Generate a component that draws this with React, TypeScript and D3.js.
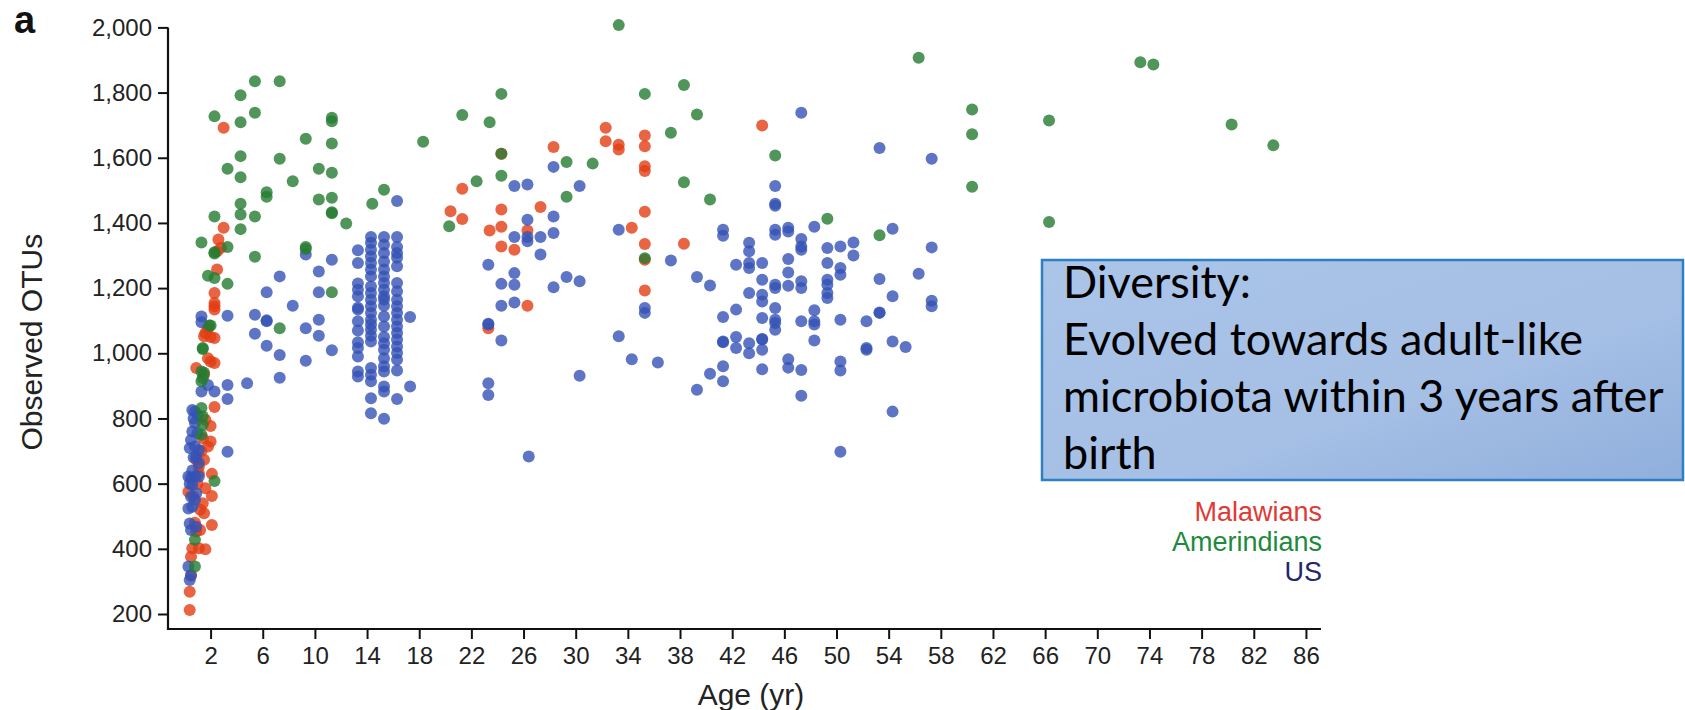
import React, { useEffect, useRef } from 'react';
import * as d3 from 'd3';

// [age (yr), observed OTUs]
const malawians: [number, number][] = [
  [0.4, 212], [0.4, 268], [0.5, 317], [0.6, 402], [1.1, 402], [1.6, 399], [0.5, 376], [0.9, 453],
  [1.2, 458], [2.1, 473], [1.5, 509], [1.4, 540], [2.1, 562], [0.3, 575], [1.6, 586], [2.1, 630],
  [1.1, 632], [1.1, 652], [1.5, 673], [1.8, 714], [2.0, 729], [2.0, 777], [1.6, 796], [2.3, 835],
  [1.4, 739], [0.9, 673], [2.0, 975], [1.8, 985], [2.3, 970], [0.9, 955], [1.5, 934], [1.5, 1052],
  [2.0, 1050], [2.3, 1047], [1.6, 1062], [1.8, 1077], [2.3, 1144], [2.3, 1134], [2.3, 1154], [2.3, 1185],
  [2.5, 1257], [2.5, 1313], [2.8, 1324], [2.6, 1349], [3.0, 1385], [3.0, 1692], [0.7, 560], [1.0, 600],
  [1.3, 700], [0.8, 480], [1.2, 520],
  [20.4, 1436], [21.3, 1412], [21.3, 1505], [23.4, 1377], [24.3, 1441], [24.3, 1388], [24.3, 1328],
  [24.3, 1612], [26.3, 1146], [26.3, 1377], [25.3, 1318], [23.3, 1077], [27.3, 1449], [32.3, 1692],
  [32.3, 1651], [33.3, 1640], [33.3, 1625], [35.3, 1668], [35.3, 1635], [35.3, 1574], [35.3, 1559],
  [28.3, 1633], [35.3, 1434], [44.3, 1699], [34.3, 1385], [38.3, 1336], [35.3, 1335], [35.3, 1287],
  [35.3, 1193],
];

const amerindians: [number, number][] = [
  [1.3, 1340], [2.3, 1727], [2.3, 1420], [2.3, 1306], [2.3, 1310], [1.8, 1238], [2.3, 1231], [2.0, 1085],
  [1.4, 1016], [1.9, 1085], [1.4, 1013], [1.3, 944], [1.4, 924], [1.3, 914], [1.3, 832], [1.4, 806],
  [1.4, 781], [1.3, 750], [2.3, 608], [0.8, 428], [0.8, 346], [1.5, 940],
  [3.3, 1566], [3.3, 1326], [3.3, 1213], [4.3, 1792], [4.3, 1709], [4.3, 1605], [4.3, 1540], [4.3, 1459],
  [4.3, 1426], [4.3, 1381], [5.4, 1835], [5.4, 1738], [5.4, 1420], [5.4, 1296], [6.3, 1494], [6.3, 1480],
  [7.3, 1835], [7.3, 1597], [7.3, 1077], [8.3, 1528], [9.3, 1658], [9.3, 1326], [9.3, 1320], [10.3, 1566],
  [10.3, 1472], [11.3, 1723], [11.3, 1712], [11.3, 1644], [11.3, 1554], [11.3, 1477], [11.3, 1433],
  [11.3, 1430], [11.3, 1187], [12.4, 1398], [14.4, 1459], [15.3, 1502], [18.3, 1649], [20.3, 1390],
  [21.3, 1731], [22.4, 1528], [23.4, 1709], [24.3, 1796], [24.3, 1612], [24.3, 1545], [29.3, 1587],
  [29.3, 1480], [31.3, 1582], [33.3, 2007], [35.3, 1796], [35.3, 1292], [37.3, 1677], [38.3, 1823],
  [38.3, 1525], [39.3, 1733], [40.3, 1472], [45.3, 1607], [49.3, 1413], [53.3, 1362], [56.3, 1907],
  [60.4, 1748], [60.4, 1672], [60.4, 1511], [66.3, 1714], [66.3, 1403], [73.3, 1893], [74.3, 1886],
  [80.3, 1702], [83.5, 1638],
];

const us: [number, number][] = [
  [1.3, 1113], [1.3, 1095], [1.8, 903], [2.3, 883], [1.3, 883], [0.6, 826], [0.8, 821], [1.0, 811],
  [0.7, 800], [0.8, 786], [0.6, 760], [1.0, 755], [0.5, 734], [0.4, 709], [0.8, 714], [1.1, 703],
  [0.9, 683], [1.1, 663], [0.3, 622], [0.5, 617], [0.8, 622], [1.1, 622], [0.6, 596], [0.9, 570],
  [0.5, 560], [0.8, 550], [0.3, 524], [0.6, 529], [0.4, 478], [0.5, 458], [0.9, 468], [0.3, 346],
  [0.5, 320], [0.4, 304], [0.6, 640], [0.7, 680], [0.4, 600],
  [3.3, 1115], [3.3, 903], [3.3, 860], [3.3, 698], [4.8, 908], [5.4, 1118], [5.4, 1060], [6.3, 1101],
  [6.3, 1098], [6.3, 1187], [6.3, 1023], [7.3, 1236], [7.3, 995], [7.3, 925], [8.3, 1146], [9.3, 1303],
  [9.3, 1077], [9.3, 977], [10.3, 1251], [10.3, 1187], [10.3, 1103], [10.3, 1054], [11.3, 1287], [11.3, 1009],
  [13.3, 1316], [13.3, 1277], [13.3, 1214], [13.3, 1195], [13.3, 1175], [13.3, 1140], [13.3, 1134],
  [13.3, 1098], [13.3, 1070], [13.3, 1034], [13.3, 1016], [13.3, 990], [13.3, 944], [13.3, 929],
  [14.3, 1357], [14.3, 1339], [14.3, 1318], [14.3, 1297], [14.3, 1277], [14.3, 1257], [14.3, 1236],
  [14.3, 1205], [14.3, 1185], [14.3, 1164], [14.3, 1144], [14.3, 1124], [14.3, 1103], [14.3, 1088],
  [14.3, 1072], [14.3, 1054], [14.3, 1036], [14.3, 955], [14.3, 934], [14.3, 914], [14.3, 862], [14.3, 816],
  [15.3, 1357], [15.3, 1333], [15.3, 1308], [15.3, 1282], [15.3, 1257], [15.3, 1236], [15.3, 1216],
  [15.3, 1195], [15.3, 1175], [15.3, 1164], [15.3, 1146], [15.3, 1113], [15.3, 1082], [15.3, 1050],
  [15.3, 1031], [15.3, 1011], [15.3, 985], [15.3, 960], [15.3, 944], [15.3, 898], [15.3, 883], [15.3, 799],
  [16.3, 1467], [16.3, 1357], [16.3, 1326], [16.3, 1308], [16.3, 1293], [16.3, 1267], [16.3, 1216],
  [16.3, 1190], [16.3, 1164], [16.3, 1144], [16.3, 1124], [16.3, 1103], [16.3, 1082], [16.3, 1062],
  [16.3, 1042], [16.3, 1021], [16.3, 1001], [16.3, 980], [16.3, 947], [16.3, 860],
  [17.3, 1111], [17.3, 898],
  [23.3, 1272], [23.3, 1091], [23.3, 1088], [23.3, 908], [23.3, 872], [24.3, 1213], [24.3, 1146],
  [24.3, 1039], [25.3, 1210], [25.3, 1246], [25.3, 1156], [25.3, 1513], [26.3, 1518], [26.3, 1410],
  [25.3, 1357], [26.3, 1357], [27.3, 1357], [26.3, 1344], [27.3, 1303], [28.3, 1572], [30.3, 1513],
  [28.3, 1420], [28.3, 1369], [33.3, 1379], [28.3, 1203], [29.3, 1234], [30.3, 1221], [35.3, 1139],
  [35.3, 1124], [33.3, 1052], [34.3, 982], [36.3, 972], [30.3, 931], [26.4, 683], [37.3, 1285],
  [39.3, 1234], [40.3, 1208], [47.3, 1738], [45.3, 1513], [45.3, 1459], [45.3, 1453], [41.3, 1379],
  [41.3, 1361], [43.3, 1339], [43.3, 1313], [43.3, 1277], [43.3, 1262], [44.3, 1277], [42.3, 1272],
  [45.3, 1379], [45.3, 1364], [46.3, 1385], [46.3, 1374], [48.3, 1388], [47.3, 1351], [47.3, 1328],
  [47.3, 1318], [49.3, 1323], [50.3, 1328], [51.3, 1340], [51.3, 1300], [49.3, 1277], [50.3, 1262],
  [50.3, 1241], [46.3, 1289], [46.3, 1248], [44.3, 1226], [45.3, 1210], [45.3, 1200], [46.3, 1207],
  [47.3, 1221], [47.3, 1200], [49.3, 1226], [49.3, 1210], [49.3, 1185], [49.3, 1170], [43.3, 1185],
  [44.3, 1180], [44.3, 1159], [41.3, 1111], [42.3, 1134], [45.3, 1139], [45.3, 1103], [45.3, 1072],
  [44.3, 1108], [48.3, 1132], [48.3, 1098], [48.3, 1039], [47.3, 1098], [50.3, 1103], [52.3, 1098],
  [53.3, 1228], [53.3, 1124], [54.3, 1382], [54.3, 1175], [53.3, 1630], [57.3, 1597], [56.3, 1244],
  [57.3, 1325], [57.3, 1161], [57.3, 1144], [41.3, 1036], [42.3, 1050], [43.3, 1031], [44.3, 1042],
  [42.3, 1016], [44.3, 1044], [52.3, 1016], [54.3, 1036], [55.3, 1019], [41.3, 1034], [43.3, 1000],
  [44.3, 1011], [44.3, 951], [45.3, 1093], [41.3, 960], [41.3, 914], [40.3, 937], [39.3, 888],
  [46.3, 982], [46.3, 956], [47.3, 949], [47.3, 870], [48.3, 1088], [50.3, 975], [50.3, 947],
  [50.3, 698], [53.3, 1125], [52.3, 1011], [54.3, 821],
];

const yTicks = [200, 400, 600, 800, 1000, 1200, 1400, 1600, 1800, 2000];
const xTicks = [2, 6, 10, 14, 18, 22, 26, 30, 34, 38, 42, 46, 50, 54, 58, 62, 66, 70, 74, 78, 82, 86];
const legendLabels = ['Malawians', 'Amerindians', 'US'];
const noteLines = ['Diversity:', 'Evolved towards adult-like', 'microbiota within 3 years after', 'birth'];

const W = 1685;
const H = 710;
const FONT = '"Liberation Sans", Arial, Helvetica, sans-serif';

const App = () => {
  const ref = useRef<SVGSVGElement>(null);

  useEffect(() => {
    drawChart();
  }, []);

  function drawChart() {
    const svg = d3.select(ref.current);
    svg.selectAll('*').remove();

    const left = 168;
    const bottom = 629;
    const x = d3.scaleLinear().domain([0, 86]).range([184.5, 184.5 + 86 * 13.04]);
    const y = d3.scaleLinear().domain([200, 2000]).range([614, 27.4]);

    svg.append('rect').attr('width', W).attr('height', H).attr('fill', '#fff');

    // panel letter
    svg.append('text')
      .attr('x', 14).attr('y', 33)
      .style('font-family', FONT).style('font-weight', 900).style('font-size', '38px')
      .attr('fill', '#111')
      .text('a');

    // points
    const groups: { data: [number, number][]; color: string }[] = [
      { data: malawians, color: '#e23d13' },
      { data: us, color: '#3452b5' },
      { data: amerindians, color: '#247c31' },
    ];
    groups.forEach((g) => {
      svg.append('g')
        .selectAll('circle')
        .data(g.data)
        .enter()
        .append('circle')
        .attr('cx', (d) => x(d[0]))
        .attr('cy', (d) => y(d[1]))
        .attr('r', 6)
        .attr('fill', g.color)
        .attr('fill-opacity', 0.8);
    });

    // axes
    const yAxis = svg.append('g')
      .attr('transform', `translate(${left},0)`)
      .call(d3.axisLeft(y).tickValues(yTicks).tickSize(10).tickPadding(6).tickFormat(d3.format(',')));
    const xAxis = svg.append('g')
      .attr('transform', `translate(0,${bottom})`)
      .call(d3.axisBottom(x).tickValues(xTicks).tickSize(10).tickPadding(8).tickFormat(d3.format('d')));

    [yAxis, xAxis].forEach((a) => {
      a.select('.domain').remove();
      a.selectAll('.tick line').attr('stroke', '#111').attr('stroke-width', 2);
      a.selectAll('.tick text')
        .style('font-family', FONT)
        .style('font-size', '24px')
        .attr('fill', '#222');
    });

    svg.append('path')
      .attr('d', `M${left},${y(2000)}V${bottom}H1321`)
      .attr('fill', 'none')
      .attr('stroke', '#111')
      .attr('stroke-width', 2.2);

    // axis titles
    svg.append('text')
      .attr('transform', `translate(42,${(y(2000) + bottom) / 2 + 14}) rotate(-90)`)
      .attr('text-anchor', 'middle')
      .style('font-family', FONT).style('font-size', '30px')
      .attr('fill', '#222')
      .text('Observed OTUs');
    svg.append('text')
      .attr('x', 751).attr('y', 705)
      .attr('text-anchor', 'middle')
      .style('font-family', FONT).style('font-size', '30px')
      .attr('fill', '#222')
      .text('Age (yr)');

    // legend
    const legendColors = ['#e03a35', '#1d8a3e', '#26266a'];
    svg.append('g')
      .selectAll('text')
      .data(legendLabels)
      .enter()
      .append('text')
      .attr('x', 1322)
      .attr('y', (_, i) => 521 + i * 30)
      .attr('text-anchor', 'end')
      .style('font-family', FONT).style('font-size', '27px')
      .attr('fill', (_, i) => legendColors[i])
      .text((d) => d);

    // note box
    const defs = svg.append('defs');
    const grad = defs.append('linearGradient')
      .attr('id', 'noteFill')
      .attr('x1', '0').attr('y1', '0').attr('x2', '1').attr('y2', '1');
    grad.append('stop').attr('offset', '0%').attr('stop-color', '#abc5e9');
    grad.append('stop').attr('offset', '60%').attr('stop-color', '#a5bfe5');
    grad.append('stop').attr('offset', '100%').attr('stop-color', '#8fafdc');

    svg.append('rect')
      .attr('x', 1042).attr('y', 260)
      .attr('width', 641).attr('height', 220)
      .attr('fill', 'url(#noteFill)')
      .attr('stroke', '#2f7fc5')
      .attr('stroke-width', 2.5);

    svg.append('g')
      .selectAll('text')
      .data(noteLines)
      .enter()
      .append('text')
      .attr('x', 1063)
      .attr('y', (_, i) => 298 + i * 57)
      .style('font-family', 'Lato, "Open Sans", sans-serif')
      .style('font-size', '45px')
      .attr('fill', '#000')
      .text((d) => d);
  }

  return (
    <svg
      ref={ref}
      width={W}
      height={H}
      style={{ position: 'absolute', left: 0, top: 0, display: 'block' }}
    />
  );
};

export default App;
